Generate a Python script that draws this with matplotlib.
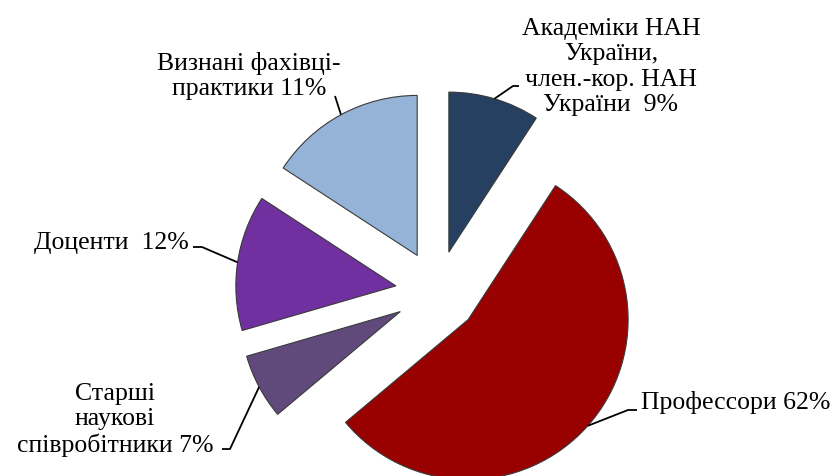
import numpy as np
import matplotlib.pyplot as plt

# slice sizes as drawn (angles), label texts as printed
groups = ["Академіки НАН\nУкраїни,\nчлен.-кор. НАН\nУкраїни  9%",
          "Профессори 62%",
          "Старші\nнаукові\nспівробітники 7%",
          "Доценти  12%",
          "Визнані фахівці-\nпрактики 11%"]
shares = [9.2, 54.7, 6.6, 13.7, 15.8]
colors = ["#264061", "#990000", "#604a7b", "#7030a0", "#95b3d7"]

W, H = 836, 477
CX, CY, R = 437, 293, 160   # pie centre / radius in image pixels


def px(x, y):
    # image pixel -> data units (radius = 1)
    return (x - CX) / R, (CY - y) / R


fig = plt.figure(figsize=(W / 100, H / 100), dpi=100)
ax = fig.add_axes([0, 0, 1, 1])
wedges, _ = ax.pie(shares, colors=colors, startangle=90, counterclock=False,
                   explode=[0.26] * len(shares), radius=1,
                   wedgeprops=dict(edgecolor="#3a3a3a", linewidth=0.8))
ax.set_xlim(px(0, 0)[0], px(W, 0)[0])
ax.set_ylim(px(0, H)[1], px(0, 0)[1])
ax.axis("off")

# label text: (anchor pixel, ha), leader points after the arc point
labels = [
    ((611, 67), "center", [(513, 87), (519, 87)]),
    ((641, 403), "left", [(628, 411), (637, 411)]),
    ((115, 420), "center", [(230, 450), (222, 450)]),
    ((189, 243), "right", [(202, 248), (193, 248)]),
    ((249, 76), "center", [(335, 97)]),
]

font = dict(family=["Liberation Serif", "DejaVu Serif"], fontsize=18.5, color="black")
for w, txt, (pos, ha, pts) in zip(wedges, groups, labels):
    ang = np.deg2rad((w.theta1 + w.theta2) / 2)
    ax0 = w.center[0] + w.r * np.cos(ang)
    ay0 = w.center[1] + w.r * np.sin(ang)
    xs = [ax0] + [px(*p)[0] for p in pts]
    ys = [ay0] + [px(*p)[1] for p in pts]
    ax.plot(xs, ys, color="black", lw=1.3, solid_capstyle="butt")
    tx, ty = px(*pos)
    ax.text(tx, ty, txt, ha=ha, va="center", multialignment="center",
            linespacing=1.2, **font)

fig.savefig("out.png", dpi=100)
